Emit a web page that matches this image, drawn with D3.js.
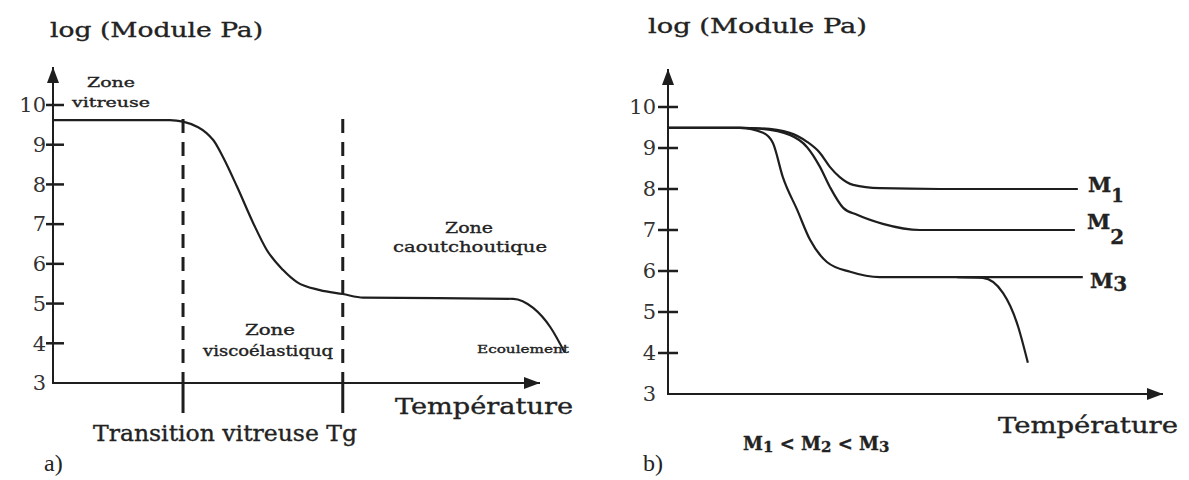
<!DOCTYPE html>
<html>
<head>
<meta charset="utf-8">
<script src="https://cdn.jsdelivr.net/npm/d3@7"></script>
<style>
  body { margin: 0; background: #fff; }
  text { fill: #222; stroke: #222; stroke-width: 0.35px; font-family: "DejaVu Serif", "Liberation Serif", serif; }
</style>
</head>
<body>
<div id="visual"></div>
<script>
// tick values of both log(module) axes
const moduleTicks = [3, 4, 5, 6, 7, 8, 9, 10];

// a) single polymer, temperature in arbitrary units (0 = axis origin, 100 = arrow tip)
const tempA = [0, 24, 26.7, 32.9, 34.9, 37.8, 41.1, 43.9, 47.2, 50.1, 54.8, 59.5, 63.7, 94.5, 98.6, 102.1, 105.1];
const moduleA = [9.62, 9.62, 9.58, 9.12, 8.69, 7.94, 7.03, 6.35, 5.85, 5.54, 5.34, 5.24, 5.15, 5.12, 4.89, 4.41, 3.76];
const tgLines = [26.7, 59.5];

// b) three molar masses
const tempM1 = [0, 14.5, 18.6, 24.6, 28.1, 30.7, 32.7, 34.7, 37.4, 42.8, 54.9, 82.8];
const moduleM1 = [9.49, 9.49, 9.48, 9.37, 9.15, 8.88, 8.54, 8.29, 8.10, 8.02, 8.0, 8.0];
const tempM2 = [0, 14.5, 18.6, 24.6, 28.1, 30.7, 32.7, 35.4, 38.2, 43.4, 50.9, 82.2];
const moduleM2 = [9.49, 9.49, 9.47, 9.32, 9.02, 8.54, 8.05, 7.54, 7.37, 7.15, 7.0, 7.0];
const tempM3 = [0, 14.5, 19.2, 21.2, 23.2, 26.1, 28.7, 32.1, 36.8, 42.8, 83.8];
const moduleM3 = [9.49, 9.49, 9.37, 9.12, 8.29, 7.49, 6.76, 6.22, 5.98, 5.85, 5.85];
const tempFlow = [58.4, 63.6, 67.7, 70.5, 72.7];
const moduleFlow = [5.85, 5.83, 5.46, 4.73, 3.76];

const width = 1189, height = 480;
const ink = "#1e1e1e";

const svg = d3.select("#visual").append("svg")
    .attr("width", width)
    .attr("height", height);

svg.append("defs").append("marker")
    .attr("id", "arrow")
    .attr("viewBox", "0 0 16 12")
    .attr("refX", 16).attr("refY", 6)
    .attr("markerWidth", 16).attr("markerHeight", 12)
    .attr("markerUnits", "userSpaceOnUse")
    .attr("orient", "auto")
    .append("path")
    .attr("d", "M0,0 L16,6 L0,12 Z")
    .attr("fill", ink);

function txt(x, y, s, size, opts = {}) {
    const t = svg.append("text")
        .attr("x", x).attr("y", y)
        .attr("font-size", size)
        .text(s);
    if (opts.anchor) t.attr("text-anchor", opts.anchor);
    if (opts.len) t.attr("textLength", opts.len).attr("lengthAdjust", "spacingAndGlyphs");
    if (opts.family) t.style("font-family", opts.family);
    return t;
}

function drawFrame(x, y, tickLeft, tickRight, labelGap) {
    const [x0, xEnd] = x.range();
    const [y0, yTop] = y.range();

    const axis = svg.append("g")
        .attr("transform", `translate(${x0 - tickLeft},0)`)
        .call(d3.axisLeft(y).tickValues(moduleTicks).tickFormat(d3.format("d"))
            .tickSize(0).tickPadding(labelGap));
    axis.select(".domain").remove();
    axis.selectAll(".tick line").remove();
    axis.selectAll(".tick text")
        .attr("font-size", 21)
        .style("fill", "#333")
        .style("stroke", "none")
        .style("font-family", '"DejaVu Serif", serif');

    // tick marks crossing the axis (none at the origin)
    svg.append("g").selectAll("rect")
        .data(moduleTicks.filter(d => d !== 3))
        .join("rect")
        .attr("x", x0 - tickLeft).attr("width", tickLeft + tickRight)
        .attr("y", d => y(d) - 1.25).attr("height", 2.5)
        .attr("fill", ink);

    // axis lines with arrows
    svg.append("line")
        .attr("x1", x0).attr("y1", y0 + 1).attr("x2", x0).attr("y2", yTop - 38)
        .attr("stroke", ink).attr("stroke-width", 2)
        .attr("marker-end", "url(#arrow)");
    svg.append("line")
        .attr("x1", x0 - 1).attr("y1", y0).attr("x2", xEnd).attr("y2", y0)
        .attr("stroke", ink).attr("stroke-width", 2)
        .attr("marker-end", "url(#arrow)");
}

const lineGen = (x, y) => d3.line()
    .x(d => x(d[0]))
    .y(d => y(d[1]))
    .curve(d3.curveMonotoneX);

function drawCurve(x, y, temps, mods) {
    svg.append("path")
        .datum(d3.zip(temps, mods))
        .attr("d", lineGen(x, y))
        .attr("fill", "none")
        .attr("stroke", ink)
        .attr("stroke-width", 2.2);
}

// ---------- a) ----------
const xA = d3.scaleLinear().domain([0, 100]).range([53, 540]);
const yA = d3.scaleLinear().domain([3, 10]).range([383, 105]);

drawFrame(xA, yA, 7, 11, 0);

tgLines.forEach(t => {
    svg.append("line")
        .attr("x1", xA(t)).attr("x2", xA(t))
        .attr("y1", yA(9.65)).attr("y2", yA(3))
        .attr("stroke", ink).attr("stroke-width", 3)
        .attr("stroke-dasharray", "14,9");
    svg.append("line")
        .attr("x1", xA(t)).attr("x2", xA(t))
        .attr("y1", yA(3)).attr("y2", yA(3) + 30)
        .attr("stroke", ink).attr("stroke-width", 3);
});

drawCurve(xA, yA, tempA, moduleA);

txt(50, 37, "log (Module Pa)", 20, { len: 213 });
txt(111, 87, "Zone", 13, { anchor: "middle", len: 48 });
txt(111, 107, "vitreuse", 13, { anchor: "middle", len: 78 });
txt(270, 335, "Zone", 14, { anchor: "middle", len: 50 });
txt(268, 356, "viscoélastiquq", 14, { anchor: "middle", len: 130 });
txt(469, 233, "Zone", 15, { anchor: "middle", len: 48 });
txt(470, 252, "caoutchoutique", 15, { anchor: "middle", len: 154 });
txt(477, 353, "Ecoulement", 11, { len: 92 });
txt(395, 414, "Température", 22, { len: 178 });
txt(93, 441, "Transition vitreuse Tg", 22, { len: 264 });
txt(44, 471, "a)", 24, { family: '"Liberation Serif", serif' }).style("stroke", "none");

// ---------- b) ----------
const xB = d3.scaleLinear().domain([0, 100]).range([668, 1163]);
const yB = d3.scaleLinear().domain([3, 10]).range([394, 107]);

drawFrame(xB, yB, 10, 10, 2);

drawCurve(xB, yB, tempM1, moduleM1);
drawCurve(xB, yB, tempM2, moduleM2);
drawCurve(xB, yB, tempM3, moduleM3);
drawCurve(xB, yB, tempFlow, moduleFlow);

txt(648, 33, "log (Module Pa)", 20, { len: 219 });
txt(998, 433, "Température", 22, { len: 180 });
txt(643, 471, "b)", 24, { family: '"Liberation Serif", serif' }).style("stroke", "none");

// curve labels with subscripts
function mLabel(x, y, sub, dy, subSize) {
    const t = svg.append("text")
        .attr("x", x).attr("y", y)
        .attr("font-size", 21)
        .attr("font-weight", "bold");
    t.append("tspan").text("M");
    t.append("tspan").attr("dy", dy).attr("font-size", subSize).text(sub);
}
mLabel(1088, 192, "1", 10, 18);
mLabel(1087, 229, "2", 15, 20);
mLabel(1090, 288, "3", 3, 20);

const rel = svg.append("text")
    .attr("x", 743).attr("y", 450)
    .attr("font-size", 18)
    .attr("font-weight", "bold");
rel.append("tspan").text("M");
rel.append("tspan").attr("font-size", 15).attr("dy", 2).text("1");
rel.append("tspan").attr("dy", -2).text(" < M");
rel.append("tspan").attr("font-size", 15).attr("dy", 2).text("2");
rel.append("tspan").attr("dy", -2).text(" < M");
rel.append("tspan").attr("font-size", 15).attr("dy", 2).text("3");
</script>
</body>
</html>
